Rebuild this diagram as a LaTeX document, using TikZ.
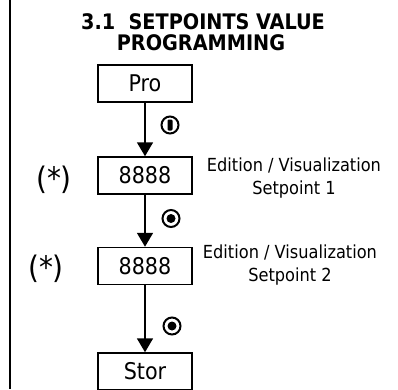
\documentclass[tikz,border=0pt]{standalone}
\usepackage{fontspec}
\setmainfont{DejaVu Sans Condensed}
\usetikzlibrary{arrows.meta}
\begin{document}
\begin{tikzpicture}[x=1pt,y=-1pt,
  box/.style={draw, line width=1.5pt, minimum width=94pt, minimum height=37pt, inner sep=0pt, font=\fontsize{23}{27}\selectfont},
  lab/.style={font=\fontsize{18}{21}\selectfont, anchor=base, inner sep=0pt},
  star/.style={font=\fontsize{31}{36}\selectfont, anchor=base, inner sep=0pt},
  ttl/.style={font=\bfseries\fontsize{21.4}{25}\selectfont, anchor=base, inner sep=0pt},
  flow/.style={line width=1.8pt, -{Triangle[width=16pt,length=14pt]}},
  ring/.style={circle, draw, line width=2pt, minimum size=17pt, inner sep=0pt}]
\clip (0,0) rectangle (398,389);
\useasboundingbox (0,0) rectangle (398,389);
\coordinate (ltop) at (10,0);
\coordinate (lbot) at (10,389);
\draw[line width=2pt] (ltop) -- (lbot);
\node[ttl] (t1) at (203,29) {3.1\ \ SETPOINTS VALUE};
\node[ttl] (t2) at (201,50) {PROGRAMMING};
\node[box] (pro) at (145,83.5) {Pro};
\node[box] (s1) at (145,175.5) {8888};
\node[box] (s2) at (145,266) {8888};
\node[box] (stor) at (145,371.5) {Stor};
\draw[flow] (pro) -- (s1);
\draw[flow] (s1) -- (s2);
\draw[flow] (s2) -- (stor);
\node[lab] (e1) at (294,171.5) {Edition / Visualization};
\node[lab] (p1) at (294,194.5) {Setpoint 1};
\node[lab] (e2) at (290,258.5) {Edition / Visualization};
\node[lab] (p2) at (290,281) {Setpoint 2};
\node[star] (a1) at (54,189.5) {(*)};
\node[star] (a2) at (46,278.5) {(*)};
\node[ring] (k1) at (170,125) {};
\fill[rounded corners=1.2pt] ([shift={(-2.5,-5.5)}]k1.center) rectangle ([shift={(2.5,5.5)}]k1.center);
\node[ring] (k2) at (171,218.5) {};
\fill (k2.center) circle[radius=4.5pt];
\node[ring] (k3) at (172,326) {};
\fill (k3.center) circle[radius=4.5pt];
\end{tikzpicture}
\end{document}
